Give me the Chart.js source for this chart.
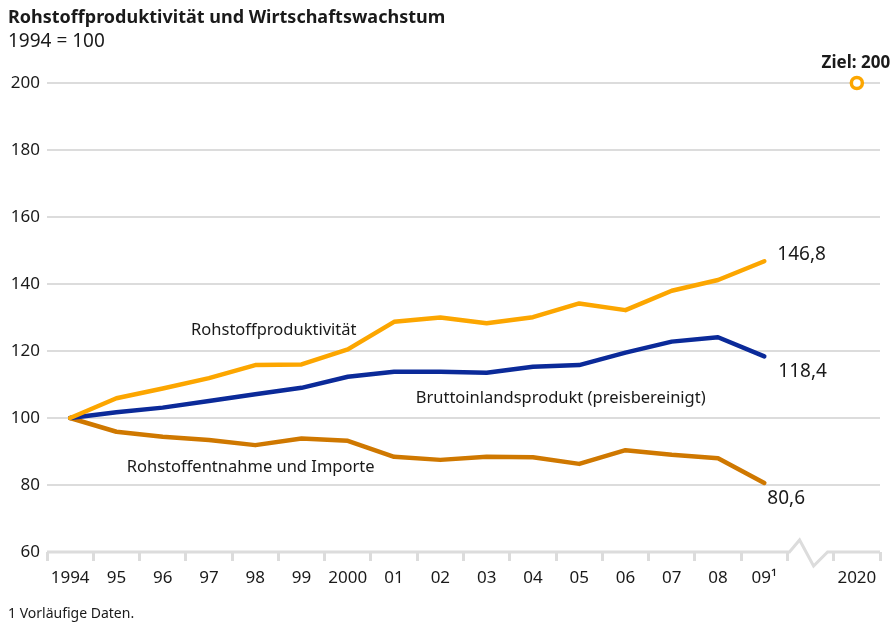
<!DOCTYPE html>
<html lang="de">
<head>
<meta charset="utf-8">
<script src="https://cdn.jsdelivr.net/npm/chart.js@4"></script>
<style>
  html, body { margin: 0; padding: 0; background: #fff; }
  body { width: 891px; height: 623px; position: relative; overflow: hidden; font-family: "Noto Sans", sans-serif; color: #1a1a1a; }
  #wrap { position: absolute; left: 0; top: 0; width: 891px; height: 623px; }
  .title { position: absolute; left: 8px; top: 4px; font-size: 18px; font-weight: bold; }
  .sub { position: absolute; left: 8px; top: 27px; font-size: 19px; }
  .note { position: absolute; left: 8px; top: 603px; font-size: 14px; }
</style>
</head>
<body>
<div id="wrap"><canvas id="chart" width="891" height="623"></canvas></div>
<div class="title">Rohstoffproduktivität und Wirtschaftswachstum</div>
<div class="sub">1994 = 100</div>
<div class="note">1 Vorläufige Daten.</div>
<script>
// Categories (index 16 is the axis break, 2020 is the target year)
const years = ['1994', '95', '96', '97', '98', '99', '2000', '01', '02', '03', '04', '05', '06', '07', '08', '09\u00b9', '', '2020'];

// Series, 1994 = 100
const productivity = [100, 105.9, 108.8, 111.9, 115.8, 116.0, 120.5, 128.7, 130.0, 128.3, 130.1, 134.2, 132.2, 138.0, 141.2, 146.8, null, null];
const gdp = [100, 101.7, 103.1, 105.1, 107.1, 109.0, 112.3, 113.8, 113.8, 113.5, 115.3, 115.8, 119.5, 122.8, 124.1, 118.4, null, null];
const extraction = [100, 95.9, 94.4, 93.4, 91.9, 93.9, 93.2, 88.4, 87.5, 88.4, 88.3, 86.3, 90.4, 89.0, 88.0, 80.6, null, null];
const target = [null, null, null, null, null, null, null, null, null, null, null, null, null, null, null, null, null, 200];

const yTicks = [60, 80, 100, 120, 140, 160, 180, 200];

const ORANGE = '#fca600';
const DARK_ORANGE = '#cf7800';
const BLUE = '#0b2a99';
const GRID = '#dcdcdc';
const FONT = '"Noto Sans", sans-serif';

// labels placed in data space: [category index, value, text, dx, dy, align, font]
const notes = [
    [4.4, 126.3, 'Rohstoffproduktivität', 0, 0, 'center', '16.5px'],
    [10.6, 106, 'Bruttoinlandsprodukt (preisbereinigt)', 0, 0, 'center', '16.5px'],
    [3.9, 85.4, 'Rohstoffentnahme und Importe', 0, 0, 'center', '16.5px'],
    [15, productivity[15], '146,8', 13, -7, 'left', '19px'],
    [15, gdp[15], '118,4', 14, 15, 'left', '19px'],
    [15, extraction[15], '80,6', 3, 16, 'left', '19px'],
    [17, target[17], 'Ziel: 200', -1, -20, 'center', 'bold 17px']
];

const annotate = {
    id: 'annotate',
    afterDraw(chart) {
        const c = chart.ctx;
        const x = chart.scales.x;
        const y = chart.scales.y;
        c.save();
        c.textBaseline = 'middle';
        c.fillStyle = '#1a1a1a';
        notes.forEach(n => {
            c.font = n[6] + ' ' + FONT;
            c.textAlign = n[5];
            c.fillText(n[2], x.getPixelForValue(n[0]) + n[3], y.getPixelForValue(n[1]) + n[4]);
        });
        c.restore();
    },
    beforeDatasetsDraw(chart) {
        // base line with break between 09 and 2020
        const c = chart.ctx;
        const x = chart.scales.x;
        const y0 = chart.scales.y.getPixelForValue(60);
        const half = (x.getPixelForValue(1) - x.getPixelForValue(0)) / 2;
        const bx = x.getPixelForValue(16);
        c.save();
        c.strokeStyle = GRID;
        c.lineWidth = 3;
        c.lineJoin = 'miter';
        c.beginPath();
        c.moveTo(chart.chartArea.left, y0);
        c.lineTo(bx - half + 2, y0);
        c.lineTo(bx - 11, y0 - 12);
        c.lineTo(bx + 3, y0 + 14);
        c.lineTo(bx + 17, y0);
        c.lineTo(chart.chartArea.right, y0);
        c.stroke();
        c.restore();
    }
};

new Chart(document.getElementById('chart'), {
    type: 'line',
    data: {
        labels: years,
        datasets: [{
            label: 'Rohstoffproduktivität',
            data: productivity,
            borderColor: ORANGE,
            borderWidth: 4.5
        }, {
            label: 'Bruttoinlandsprodukt (preisbereinigt)',
            data: gdp,
            borderColor: BLUE,
            borderWidth: 4.5
        }, {
            label: 'Rohstoffentnahme und Importe',
            data: extraction,
            borderColor: DARK_ORANGE,
            borderWidth: 4.5
        }, {
            label: 'Ziel',
            data: target,
            borderColor: ORANGE,
            backgroundColor: '#fff',
            pointRadius: 5.5,
            pointBorderWidth: 3.5,
            showLine: false,
            clip: false
        }]
    },
    options: {
        responsive: false,
        animation: false,
        layout: { padding: { top: 83, right: 11, left: 0, bottom: 0 } },
        elements: {
            line: { tension: 0, borderCapStyle: 'round', borderJoinStyle: 'round' },
            point: { radius: 0, hoverRadius: 0 }
        },
        plugins: {
            legend: { display: false },
            tooltip: { enabled: false }
        },
        scales: {
            x: {
                type: 'category',
                offset: true,
                afterFit: s => { s.height = 71; },
                border: { display: false },
                grid: {
                    offset: true,
                    drawOnChartArea: false,
                    drawTicks: true,
                    tickLength: 9,
                    lineWidth: 3,
                    color: GRID
                },
                ticks: {
                    color: '#1a1a1a',
                    font: { family: FONT, size: 17 },
                    padding: 7,
                    maxRotation: 0,
                    autoSkip: false
                }
            },
            y: {
                min: 60,
                max: 200,
                afterFit: s => { s.width = 47; },
                afterBuildTicks: s => { s.ticks = yTicks.map(v => ({ value: v })); },
                border: { display: false },
                grid: {
                    drawTicks: false,
                    lineWidth: 2,
                    color: ctx => ctx.tick && ctx.tick.value === 60 ? 'rgba(0,0,0,0)' : GRID
                },
                ticks: {
                    color: '#1a1a1a',
                    font: { family: FONT, size: 17 },
                    padding: 7
                }
            }
        }
    },
    plugins: [annotate]
});
</script>
</body>
</html>
